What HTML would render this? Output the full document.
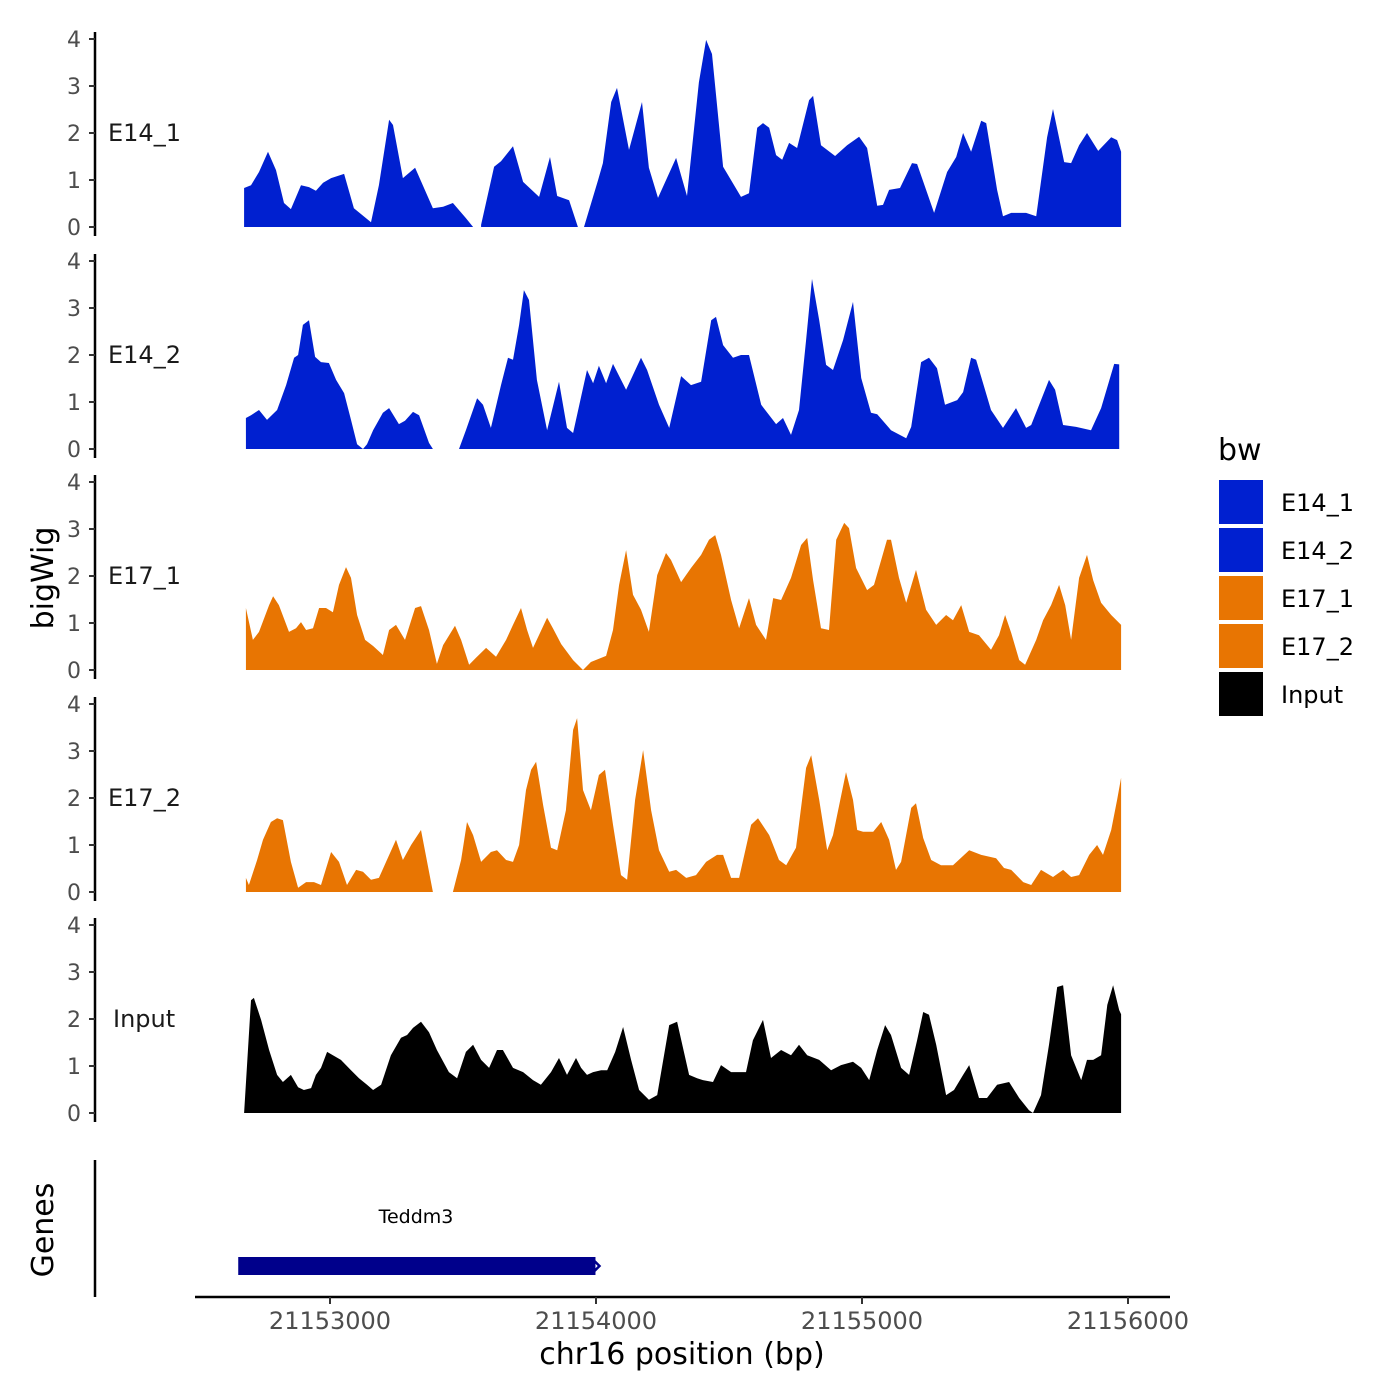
<!DOCTYPE html>
<html><head><meta charset="utf-8"><style>
html,body{margin:0;padding:0;background:#fff;}
svg{display:block;font-family:"DejaVu Sans","Liberation Sans",sans-serif;}
</style></head><body>
<svg id="chart" width="1400" height="1400" viewBox="0 0 1400 1400"></svg>
<script>
const trackNames = ["E14_1","E14_2","E17_1","E17_2","Input"];
const trackColors = ["#0020D0","#0020D0","#E87502","#E87502","#000000"];
const yTicks = [0,1,2,3,4];
const xTicks = [21153000,21154000,21155000,21156000];

const e14_1_pos = [21152677,21152703,21152733,21152767,21152797,21152827,21152853,21152891,21152921,21152947,21152974,21153004,21153053,21153090,21153154,21153184,21153222,21153237,21153274,21153320,21153387,21153425,21153462,21153511,21153538,null,21153568,21153617,21153643,21153688,21153726,21153786,21153827,21153854,21153899,21153932,null,21153955,21154008,21154026,21154057,21154079,21154124,21154173,21154199,21154233,21154301,21154342,21154387,21154414,21154436,21154478,21154545,21154575,21154606,21154628,21154651,21154677,21154700,21154726,21154756,21154801,21154816,21154846,21154899,21154944,21154989,21155019,21155057,21155079,21155102,21155143,21155188,21155207,21155271,21155320,21155354,21155380,21155410,21155448,21155467,21155508,21155530,21155561,21155617,21155655,21155696,21155718,21155760,21155786,21155816,21155846,21155888,21155937,21155959,21155974];
const e14_1_val = [0.83,0.89,1.17,1.6,1.21,0.51,0.38,0.89,0.85,0.77,0.94,1.04,1.13,0.4,0.1,0.89,2.28,2.17,1.04,1.26,0.4,0.43,0.51,0.19,0.0,null,0.05,1.28,1.4,1.72,0.96,0.64,1.49,0.66,0.57,0.0,null,0.0,1.0,1.36,2.66,2.96,1.64,2.66,1.26,0.62,1.47,0.66,3.08,3.98,3.68,1.28,0.64,0.72,2.11,2.21,2.11,1.53,1.43,1.79,1.68,2.7,2.79,1.74,1.51,1.74,1.92,1.68,0.45,0.47,0.79,0.83,1.36,1.34,0.3,1.17,1.49,2.0,1.6,2.26,2.21,0.79,0.23,0.3,0.3,0.23,1.91,2.51,1.38,1.36,1.74,2.0,1.62,1.91,1.85,1.6];

const e14_2_pos = [21152684,21152703,21152733,21152763,21152801,21152835,21152865,21152880,21152898,21152921,21152944,21152966,21152996,21153023,21153053,21153079,21153102,21153124,21153139,21153162,21153199,21153222,21153259,21153282,21153312,21153335,21153372,21153387,null,21153485,21153511,21153553,21153575,21153605,21153643,21153669,21153688,21153711,21153729,21153748,21153778,21153816,21153861,21153891,21153914,21153966,21153989,21154011,21154038,21154064,21154113,21154169,21154192,21154237,21154275,21154320,21154357,21154395,21154433,21154451,21154478,21154515,21154545,21154575,21154621,21154677,21154703,21154733,21154763,21154790,21154812,21154839,21154865,21154891,21154929,21154966,21154997,21155034,21155057,21155109,21155166,21155185,21155222,21155252,21155282,21155312,21155358,21155380,21155410,21155429,21155485,21155530,21155579,21155617,21155636,21155703,21155726,21155756,21155805,21155861,21155899,21155948,21155967];
const e14_2_val = [0.66,0.72,0.83,0.62,0.83,1.36,1.94,2.0,2.64,2.74,1.96,1.85,1.83,1.47,1.19,0.62,0.1,0.0,0.1,0.4,0.77,0.87,0.53,0.6,0.79,0.72,0.13,0.0,null,0.0,0.4,1.08,0.94,0.45,1.36,1.94,1.9,2.64,3.38,3.17,1.47,0.4,1.43,0.45,0.34,1.68,1.4,1.77,1.4,1.81,1.26,1.94,1.68,0.94,0.45,1.55,1.36,1.43,2.74,2.81,2.21,1.94,2.0,2.0,0.94,0.53,0.66,0.3,0.83,2.32,3.62,2.74,1.79,1.68,2.32,3.13,1.51,0.77,0.74,0.4,0.23,0.47,1.85,1.94,1.72,0.94,1.04,1.21,1.94,1.9,0.83,0.45,0.87,0.45,0.51,1.47,1.26,0.51,0.47,0.4,0.87,1.81,1.8];

const e17_1_pos = [21152684,21152710,21152733,21152771,21152786,21152808,21152846,21152872,21152891,21152910,21152936,21152959,21152985,21153011,21153034,21153060,21153079,21153102,21153132,21153162,21153199,21153222,21153248,21153282,21153320,21153342,21153372,21153402,21153425,21153470,21153493,21153523,21153549,21153587,21153624,21153662,21153688,21153718,21153741,21153763,21153816,21153838,21153869,21153914,21153951,21153981,21154038,21154064,21154087,21154113,21154139,21154169,21154199,21154230,21154263,21154282,21154320,21154357,21154395,21154425,21154448,21154470,21154508,21154538,21154575,21154602,21154639,21154666,21154696,21154733,21154771,21154794,21154816,21154846,21154876,21154903,21154933,21154951,21154978,21155019,21155045,21155072,21155094,21155109,21155139,21155166,21155203,21155241,21155279,21155316,21155342,21155373,21155403,21155440,21155485,21155515,21155538,21155561,21155591,21155613,21155655,21155681,21155711,21155741,21155764,21155786,21155816,21155846,21155869,21155899,21155937,21155974];
const e17_1_val = [1.32,0.64,0.81,1.38,1.57,1.38,0.81,0.89,1.02,0.85,0.89,1.32,1.32,1.23,1.81,2.19,1.96,1.17,0.64,0.51,0.32,0.85,0.96,0.64,1.32,1.36,0.85,0.13,0.53,0.94,0.64,0.11,0.26,0.47,0.28,0.64,0.96,1.32,0.85,0.47,1.11,0.89,0.55,0.21,0.0,0.17,0.3,0.85,1.81,2.55,1.6,1.28,0.81,2.02,2.49,2.34,1.87,2.17,2.45,2.77,2.87,2.45,1.49,0.89,1.53,0.96,0.64,1.53,1.49,1.96,2.66,2.81,1.91,0.89,0.85,2.77,3.13,3.02,2.17,1.7,1.81,2.34,2.77,2.77,1.96,1.43,2.13,1.28,0.96,1.17,1.06,1.38,0.81,0.74,0.43,0.74,1.17,0.79,0.21,0.11,0.64,1.06,1.38,1.81,1.38,0.64,1.96,2.45,1.91,1.43,1.17,0.96];

const e17_2_pos = [21152684,21152695,21152726,21152748,21152778,21152801,21152823,21152853,21152880,21152910,21152940,21152966,21153004,21153034,21153064,21153098,21153124,21153154,21153184,21153214,21153248,21153274,21153305,21153342,21153387,null,21153462,21153493,21153515,21153538,21153568,21153605,21153628,21153662,21153688,21153711,21153737,21153756,21153775,21153801,21153831,21153854,21153887,21153914,21153929,21153951,21153981,21154011,21154034,21154064,21154094,21154117,21154147,21154177,21154207,21154237,21154275,21154301,21154339,21154376,21154414,21154455,21154478,21154508,21154538,21154583,21154609,21154651,21154688,21154715,21154752,21154790,21154809,21154839,21154869,21154891,21154940,21154966,21154982,21155004,21155042,21155072,21155102,21155128,21155147,21155185,21155203,21155230,21155260,21155297,21155342,21155403,21155448,21155504,21155534,21155561,21155606,21155636,21155673,21155718,21155756,21155786,21155816,21155854,21155884,21155906,21155937,21155959,21155974];
const e17_2_val = [0.3,0.15,0.68,1.11,1.49,1.57,1.53,0.64,0.09,0.21,0.21,0.15,0.85,0.64,0.15,0.47,0.43,0.26,0.3,0.68,1.11,0.68,1.0,1.32,0.0,null,0.0,0.68,1.49,1.21,0.64,0.85,0.89,0.68,0.64,1.0,2.17,2.6,2.77,1.85,0.94,0.89,1.74,3.45,3.7,2.17,1.74,2.49,2.6,1.43,0.36,0.26,1.96,3.02,1.74,0.89,0.43,0.47,0.3,0.36,0.64,0.79,0.79,0.3,0.3,1.43,1.57,1.21,0.68,0.57,0.94,2.64,2.91,1.96,0.89,1.21,2.55,1.96,1.32,1.28,1.28,1.49,1.11,0.47,0.64,1.79,1.89,1.15,0.68,0.57,0.57,0.89,0.79,0.72,0.51,0.47,0.21,0.15,0.47,0.32,0.47,0.32,0.36,0.79,1.0,0.79,1.32,1.96,2.43];

const input_pos = [21152677,21152703,21152714,21152741,21152771,21152801,21152823,21152853,21152880,21152902,21152929,21152947,21152966,21152989,21153011,21153041,21153079,21153109,21153139,21153162,21153192,21153229,21153267,21153290,21153312,21153342,21153372,21153402,21153447,21153478,21153511,21153538,21153568,21153598,21153628,21153650,21153688,21153726,21153763,21153793,21153831,21153861,21153891,21153925,21153944,21153966,21153989,21154019,21154042,21154072,21154102,21154132,21154162,21154199,21154230,21154275,21154305,21154350,21154380,21154402,21154440,21154470,21154508,21154564,21154590,21154628,21154658,21154696,21154733,21154763,21154794,21154839,21154884,21154921,21154966,21154997,21155027,21155057,21155087,21155109,21155147,21155177,21155207,21155230,21155252,21155279,21155316,21155346,21155380,21155403,21155440,21155470,21155508,21155553,21155591,21155628,21155643,21155673,21155703,21155734,21155756,21155786,21155824,21155846,21155869,21155899,21155922,21155944,21155967,21155974];
const input_val = [0.0,2.4,2.45,1.98,1.34,0.81,0.66,0.81,0.55,0.49,0.53,0.81,0.96,1.3,1.23,1.13,0.91,0.74,0.6,0.49,0.6,1.23,1.6,1.66,1.81,1.94,1.72,1.34,0.87,0.74,1.3,1.45,1.13,0.96,1.34,1.34,0.96,0.87,0.7,0.6,0.87,1.17,0.81,1.17,0.96,0.81,0.87,0.91,0.91,1.3,1.83,1.13,0.49,0.28,0.38,1.87,1.94,0.81,0.74,0.7,0.66,1.02,0.87,0.87,1.55,1.98,1.17,1.34,1.23,1.45,1.23,1.13,0.91,1.02,1.09,0.96,0.7,1.34,1.87,1.66,0.96,0.81,1.55,2.15,2.09,1.45,0.38,0.49,0.81,1.02,0.32,0.32,0.6,0.66,0.32,0.06,0.0,0.38,1.45,2.68,2.72,1.23,0.7,1.13,1.13,1.23,2.3,2.72,2.19,2.1];

const allPos = [e14_1_pos,e14_2_pos,e17_1_pos,e17_2_pos,input_pos];
const allVal = [e14_1_val,e14_2_val,e17_1_val,e17_2_val,input_val];

const NS = "http://www.w3.org/2000/svg";
const svg = document.getElementById('chart');
function mk(tag, attrs, parent){const e=document.createElementNS(NS,tag);for(const k in attrs)e.setAttribute(k,attrs[k]);(parent||svg).appendChild(e);return e;}
function xs(bp){return 330 + (bp-21153000)*0.266;}
const baseY = [227,449,670,892,1113];
const unit = 47;

for(let t=0;t<5;t++){
  const y0 = baseY[t];
  const ys = v => y0 - v*unit;
  const g = mk('g',{});
  
  
  const ax = mk('line',{x1:95,x2:95,y1:y0-195,y2:y0+9,stroke:'#000','stroke-width':2.5},g);
  
  
  yTicks.forEach(v=>{
    const tk = mk('line',{x1:89,x2:95,y1:ys(v),y2:ys(v),stroke:'#333','stroke-width':2},g);
    
    
    const tl = mk('text',{x:81,y:ys(v)+8,'text-anchor':'end','font-size':22,fill:'#4d4d4d'},g);
    tl.textContent = v;
    
    
  });
  const lab = mk('text',{x: t===4?113:108,y:ys(2)+8,'font-size':24,fill:'#1a1a1a'},g);
  lab.textContent = trackNames[t];
  
  
  const pos = allPos[t], val = allVal[t];
  let seg = [];
  const segs = [];
  for(let i=0;i<pos.length;i++){
    if(pos[i]===null||val[i]===null){ if(seg.length) segs.push(seg); seg=[]; }
    else seg.push([pos[i],val[i]]);
  }
  if(seg.length) segs.push(seg);
  segs.forEach(s=>{
    let d = 'M'+xs(s[0][0])+','+y0;
    s.forEach(p=>{ d += ' L'+xs(p[0]).toFixed(1)+','+ys(p[1]).toFixed(1); });
    d += ' L'+xs(s[s.length-1][0])+','+y0+' Z';
    const a = mk('path',{d:d,fill:trackColors[t]},g);
    
    
  });
}

// genes panel
const gAx = mk('line',{x1:95,x2:95,y1:1160,y2:1297,stroke:'#000','stroke-width':2.5});


const geneStart = 21152655, geneEnd = 21153998;
const gene = mk('rect',{x:xs(geneStart),y:1257,width:xs(geneEnd)-xs(geneStart),height:18,fill:'#00008B'});


const arr = mk('path',{d:'M'+(xs(geneEnd)-2)+',1260 L'+(xs(geneEnd)+4)+',1266 L'+(xs(geneEnd)-2)+',1272',stroke:'#00008B','stroke-width':2.5,fill:'none'});


const gl = mk('text',{x:416,y:1223,'text-anchor':'middle','font-size':19,fill:'#000'});
gl.textContent='Teddm3';



// x axis
const xa = mk('line',{x1:195,x2:1170,y1:1297,y2:1297,stroke:'#000','stroke-width':2.5});


xTicks.forEach(v=>{
  const tk = mk('line',{x1:xs(v),x2:xs(v),y1:1297,y2:1304,stroke:'#333','stroke-width':2});
  
  
  const tl = mk('text',{x:xs(v),y:1329,'text-anchor':'middle','font-size':24,fill:'#4d4d4d'});
  tl.textContent = v;
  
  
});
const xt = mk('text',{x:682,y:1364,'text-anchor':'middle','font-size':30,fill:'#000'});
xt.textContent='chr16 position (bp)';


const yt = mk('text',{x:0,y:0,'text-anchor':'middle','font-size':30,fill:'#000',transform:'translate(53,578) rotate(-90)'});
yt.textContent='bigWig';


const gt = mk('text',{x:0,y:0,'text-anchor':'middle','font-size':30,fill:'#000',transform:'translate(53,1230) rotate(-90)'});
gt.textContent='Genes';



// legend
const lt = mk('text',{x:1218,y:460,'font-size':30,fill:'#000'});
lt.textContent='bw';


const legendLabels = ["E14_1","E14_2","E17_1","E17_2","Input"];
legendLabels.forEach((n,i)=>{
  const cy = 502 + i*48;
  const k = mk('rect',{x:1219,y:cy-22,width:44,height:44,fill:trackColors[i]});
  
  
  const tx = mk('text',{x:1281,y:cy+9,'font-size':24,fill:'#000'});
  tx.textContent = n;
  
  
});
</script>
</body></html>
